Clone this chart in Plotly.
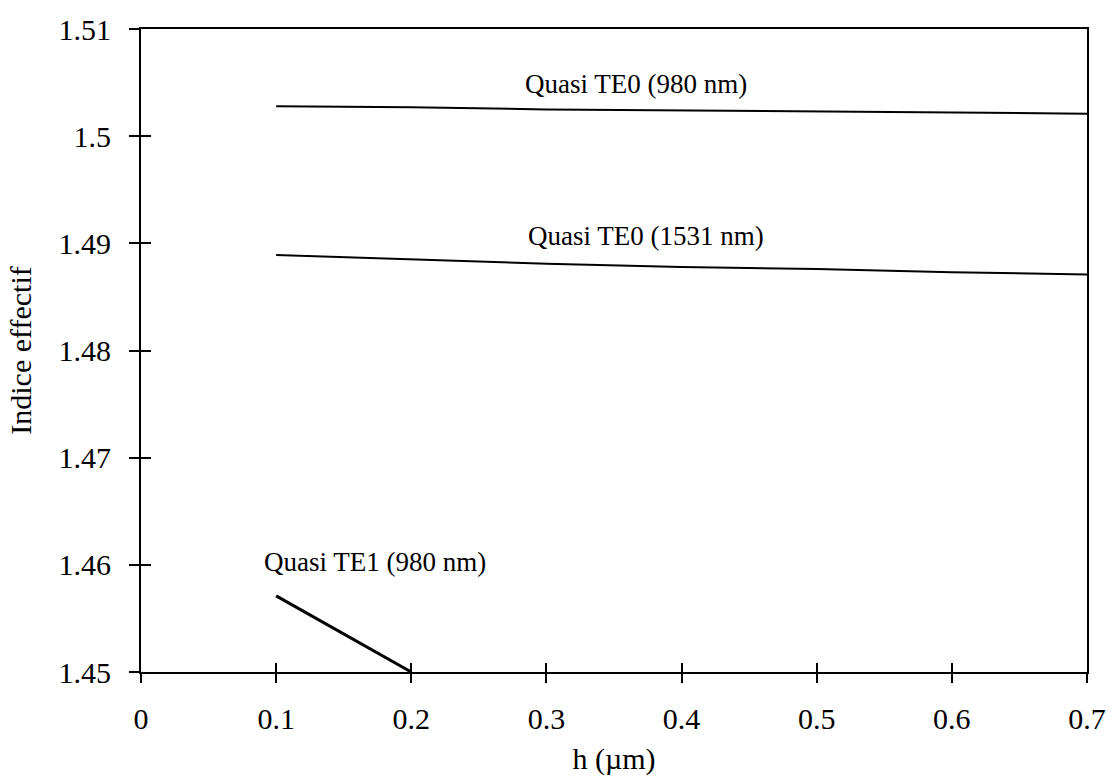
import plotly.graph_objects as go

# Effective index vs. layer thickness h for the guided modes
h_um = [0.1, 0.2, 0.3, 0.4, 0.5, 0.6, 0.7]
n_te0_980 = [1.5028, 1.5027, 1.5025, 1.5024, 1.5023, 1.5022, 1.5021]
n_te0_1531 = [1.4889, 1.4885, 1.4881, 1.4878, 1.4876, 1.4873, 1.4871]
h_te1 = [0.1, 0.2]
n_te1_980 = [1.4571, 1.4500]

x_ticks = [0, 0.1, 0.2, 0.3, 0.4, 0.5, 0.6, 0.7]
y_ticks = [1.45, 1.46, 1.47, 1.48, 1.49, 1.5, 1.51]

labels = [
    ("Quasi TE0 (980 nm)", 0.366, 1.5049),
    ("Quasi TE0 (1531 nm)", 0.374, 1.4907),
    ("Quasi TE1 (980 nm)", 0.173, 1.4603),
]

FONT = "Liberation Serif"

fig = go.Figure()
fig.add_trace(go.Scatter(x=h_um, y=n_te0_980, mode="lines",
                         line=dict(color="black", width=2), showlegend=False))
fig.add_trace(go.Scatter(x=h_um, y=n_te0_1531, mode="lines",
                         line=dict(color="black", width=2), showlegend=False))
fig.add_trace(go.Scatter(x=h_te1, y=n_te1_980, mode="lines",
                         line=dict(color="black", width=3), showlegend=False))
# invisible trace on the overlay axes so the inner tick marks render
fig.add_trace(go.Scatter(x=[0], y=[1.45], xaxis="x2", yaxis="y2", mode="markers",
                         marker=dict(opacity=0), showlegend=False, hoverinfo="skip"))

for text, x, y in labels:
    fig.add_annotation(x=x, y=y, text=text, showarrow=False,
                       font=dict(family=FONT, size=27, color="black"))

axis_common = dict(showgrid=False, zeroline=False, showline=True, linecolor="black",
                   linewidth=2, mirror=True, tickcolor="black", tickwidth=1.5,
                   tickfont=dict(family=FONT, size=30, color="black"))

fig.update_layout(
    width=1118, height=783,
    margin=dict(l=141, r=25, t=23, b=111),
    paper_bgcolor="white", plot_bgcolor="white",
    font=dict(family=FONT, color="black"),
    xaxis=dict(range=[0, 0.7], tickvals=x_ticks, ticks="outside", ticklen=9,
               ticklabelstandoff=10,
               title=dict(text="h (µm)", font=dict(family=FONT, size=30, color="black"),
                          standoff=14),
               **axis_common),
    yaxis=dict(range=[1.45, 1.51], tickvals=y_ticks, ticks="outside", ticklen=10,
               ticklabelstandoff=12,
               title=dict(text="Indice effectif", font=dict(family=FONT, size=30, color="black"),
                          standoff=18),
               **axis_common),
    xaxis2=dict(overlaying="x", matches="x", range=[0, 0.7], tickvals=x_ticks,
                ticks="inside", ticklen=9, tickcolor="black", tickwidth=1.5,
                showticklabels=False, showgrid=False, zeroline=False, showline=False),
    yaxis2=dict(overlaying="y", matches="y", range=[1.45, 1.51], tickvals=y_ticks,
                ticks="inside", ticklen=10, tickcolor="black", tickwidth=1.5,
                showticklabels=False, showgrid=False, zeroline=False, showline=False),
)

fig.write_html("out.html")
